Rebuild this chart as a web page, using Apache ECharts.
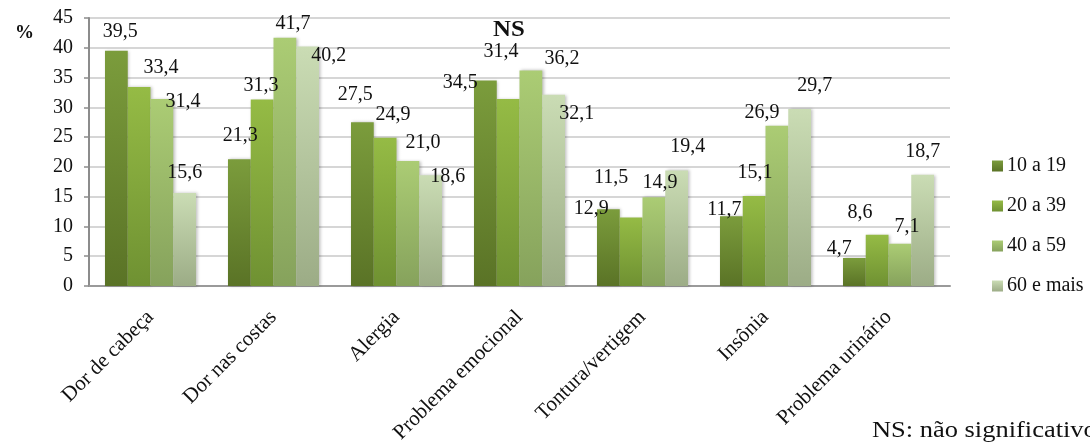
<!DOCTYPE html>
<html>
<head>
<meta charset="utf-8">
<script src="https://cdn.jsdelivr.net/npm/echarts@6/dist/echarts.min.js"></script>
<style>
html,body{margin:0;padding:0;background:#fff;}
#chart{width:1090px;height:445px;}
</style>
</head>
<body>
<div id="chart"></div>
<script>
// ---- data ----
const categories = ['Dor de cabeça','Dor nas costas','Alergia','Problema emocional','Tontura/vertigem','Insônia','Problema urinário'];
const seriesNames = ['10 a 19','20 a 39','40 a 59','60 e mais'];
const age10to19 = [39.5, 21.3, 27.5, 34.5, 12.9, 11.7, 4.7];
const age20to39 = [33.4, 31.3, 24.9, 31.4, 11.5, 15.1, 8.6];
const age40to59 = [31.4, 41.7, 21.0, 36.2, 14.9, 26.9, 7.1];
const age60plus = [15.6, 40.2, 18.6, 32.1, 19.4, 29.7, 18.7];
const yTicks = [0,5,10,15,20,25,30,35,40,45];

// ---- style: label nudges (px) relative to the default 'top' position ----
const labelNudge = [
  [[4,-4],[1,-8],[-7,-12],[-25,17],[-17,15],[-7,8],[-15,6]],
  [[22,-4],[-1,1],[8,-8],[-7,-32],[-20,-25],[1,-8],[-17,-7]],
  [[21,18],[8,1],[15,-3],[31,3],[6,0],[-15,2],[7,-2]],
  [[0,-5],[21,24],[17,17],[23,34],[11,-9],[15,-8],[0,-8]]
];
const gradients = [
  ['#7b9c3c','#5a7326'],
  ['#95bb45','#6f9132'],
  ['#abcc74','#86a25c'],
  ['#cadcb4','#9cac86']
];
const allValues = [age10to19, age20to39, age40to59, age60plus];

const FONT = '"Liberation Serif","Times New Roman",serif';
const chart = echarts.init(document.getElementById('chart'), null, {renderer:'canvas'});

const series = allValues.map((vals, s) => ({
  name: seriesNames[s],
  type: 'bar',
  barGap: '0%',
  barCategoryGap: '26%',
  itemStyle: {
    color: new echarts.graphic.LinearGradient(0,0,0,1,[
      {offset:0,color:gradients[s][0]},{offset:1,color:gradients[s][1]}
    ]),
    shadowColor: 'rgba(0,0,0,0.25)',
    shadowBlur: 3,
    shadowOffsetX: 1.5
  },
  label: {
    show: true,
    position: 'top',
    distance: 5,
    fontFamily: FONT,
    fontSize: 20,
    color: '#111',
    formatter: p => p.value.toFixed(1).replace('.', ',')
  },
  data: vals.map((v, i) => ({ value: v, label: { offset: labelNudge[s][i] } }))
}));

chart.setOption({
  animation: false,
  backgroundColor: '#fff',
  grid: { left: 89, right: 140, top: 18, bottom: 159, containLabel: false, outerBoundsMode: 'none' },
  legend: {
    orient: 'vertical',
    left: 992,
    top: 156,
    padding: 0,
    icon: 'rect',
    itemWidth: 11,
    itemHeight: 11,
    itemGap: 20,
    textStyle: { fontFamily: FONT, fontSize: 20, color: '#111', lineHeight: 20, padding:[0,0,0,-1] },
    data: seriesNames
  },
  xAxis: {
    type: 'category',
    data: categories,
    axisLine: { show: true, lineStyle: { color: '#9a9a9a', width: 2 } },
    axisTick: { show: false },
    axisLabel: { rotate: 45, margin: 28, fontFamily: FONT, fontSize: 21, color: '#111', interval: 0 }
  },
  yAxis: {
    type: 'value',
    min: yTicks[0],
    max: yTicks[yTicks.length-1],
    interval: yTicks[1]-yTicks[0],
    axisLine: { show: true, lineStyle: { color: '#8c8c8c', width: 2 } },
    axisTick: { show: true, inside: false, length: 5, lineStyle: { color: '#8c8c8c', width: 1.5 } },
    splitLine: { show: true, lineStyle: { color: '#d6d6d6', width: 2 } },
    axisLabel: { margin: 16, fontFamily: FONT, fontSize: 20, color: '#111' }
  },
  graphic: [
    { type:'text', left: 15, top: 24, style:{ text:'%', font:'bold 19px ' + FONT, fill:'#111' } },
    { type:'text', x: 493, y: 30.5, scaleX: 1.08, style:{ text:'NS', font:'bold 23px ' + FONT, fill:'#111', verticalAlign:'middle' } },
    { type:'text', x: 872, y: 430.5, scaleX: 1.15, style:{ text:'NS: não significativo', font:'23px ' + FONT, fill:'#111', verticalAlign:'middle' } }
  ],
  series: series
});
</script>
</body>
</html>
